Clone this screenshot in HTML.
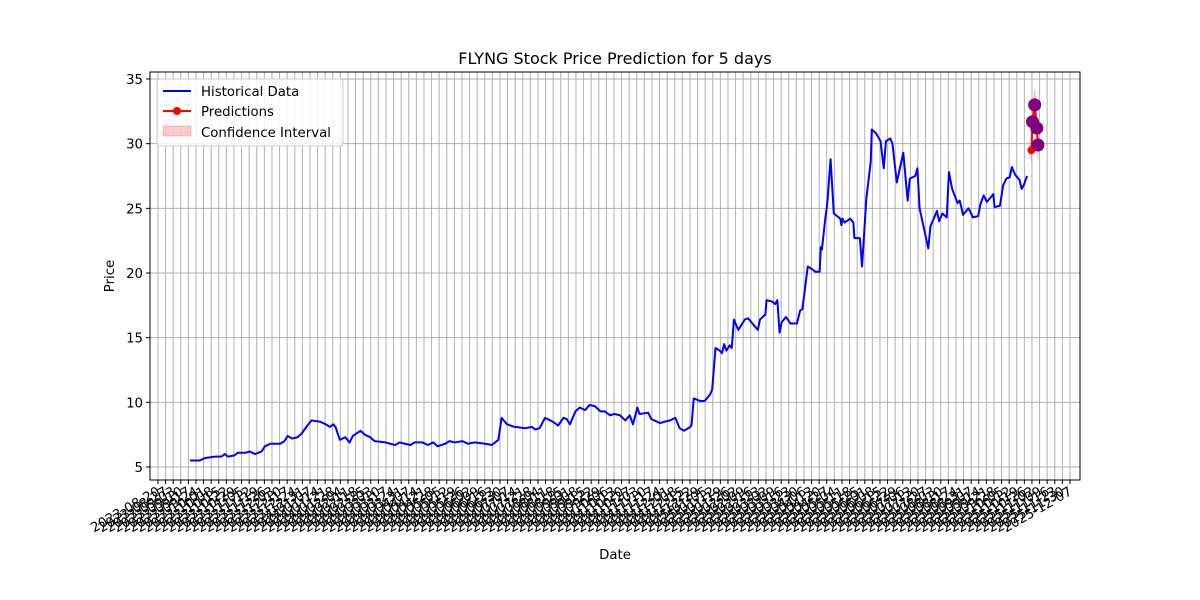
<!DOCTYPE html>
<html><head><meta charset="utf-8"><style>
body{margin:0;background:#fff;}
svg{display:block;font-family:"DejaVu Sans","Liberation Sans",sans-serif;}
</style></head><body>
<svg id="chart" width="1200" height="600" viewBox="0 0 1200 600" xmlns="http://www.w3.org/2000/svg">
<rect width="1200" height="600" fill="#fff"/>
<text x="615" y="64" font-size="16" text-anchor="middle" fill="#000">FLYNG Stock Price Prediction for 5 days</text>
<g id="grid"></g><g id="xticks"></g><g id="yticks"></g><g id="series"></g>
<rect x="150" y="72" width="930" height="408" fill="none" stroke="#000" stroke-width="1"/>
<text x="615" y="559" font-size="13.3" text-anchor="middle">Date</text>
<text transform="translate(114,276) rotate(-90)" font-size="13.3" text-anchor="middle">Price</text>
<g>
<rect x="157" y="79" width="186" height="67" rx="3" fill="#fff" fill-opacity="0.85" stroke="#ccc"/>
<g><line x1="163" y1="91" x2="191" y2="91" stroke="#0000ff" stroke-width="2"/><text x="201" y="96" font-size="13.3">Historical Data</text></g>
<g><line x1="163" y1="111" x2="191" y2="111" stroke="#ff0000" stroke-width="2"/><circle cx="177" cy="111" r="4" fill="#ff0000"/><text x="201" y="116" font-size="13.3">Predictions</text></g>
<g><rect x="163" y="126" width="28" height="10" fill="#ff0000" fill-opacity="0.2" stroke="#ff0000" stroke-opacity="0.2"/><text x="201" y="137" font-size="13.3">Confidence Interval</text></g>
</g>
</svg>
<script>
const histDays=[0,9,14,23,29,32,35,41,44,51,55,60,66,69,74,83,87,90,94,99,103,108,112,120,125,129,132,134,138,143,147,150,157,161,166,170,180,189,193,198,203,207,214,219,224,228,235,239,244,251,256,262,272,278,284,287,292,299,309,315,318,322,327,332,336,339,344,347,350,355,359,364,368,373,378,382,387,391,396,401,405,408,412,414,422,425,433,437,442,447,451,455,461,462,464,470,474,479,481,484,488,490,492,494,497,499,501,505,511,514,520,523,525,530,531,536,539,541,543,545,549,553,559,562,564,566,569,573,576,580,581,582,585,587,590,593,599,600,601,603,608,611,612,617,619,623,627,628,632,636,639,641,645,647,651,657,661,663,668,670,672,680,682,688,690,693,697,699,702,707,709,712,717,719,721,726,728,731,734,737,740,741,746,749,752,755,757,760,764,766,768,771];
const histPrices=[5.5,5.5,5.7,5.8,5.8,6.0,5.8,5.9,6.1,6.1,6.2,6.0,6.2,6.6,6.8,6.8,7.0,7.4,7.2,7.3,7.6,8.2,8.6,8.5,8.3,8.1,8.3,8.1,7.1,7.3,6.9,7.4,7.8,7.5,7.3,7.0,6.9,6.7,6.9,6.8,6.7,6.9,6.9,6.7,6.9,6.6,6.8,7.0,6.9,7.0,6.8,6.9,6.8,6.7,7.1,8.8,8.3,8.1,8.0,8.1,7.9,8.0,8.8,8.6,8.4,8.2,8.8,8.7,8.3,9.3,9.6,9.4,9.8,9.7,9.3,9.3,9.0,9.1,9.0,8.6,9.0,8.3,9.6,9.1,9.2,8.7,8.4,8.5,8.6,8.8,8.0,7.8,8.1,8.3,10.3,10.1,10.1,10.6,11.0,14.2,14.0,13.8,14.5,14.0,14.4,14.2,16.4,15.6,16.4,16.5,15.9,15.6,16.4,16.8,17.9,17.8,17.6,17.9,15.4,16.2,16.6,16.1,16.1,17.1,17.2,18.5,20.5,20.3,20.1,20.1,22.0,21.8,24.1,25.4,28.8,24.6,24.2,23.7,24.2,23.9,24.2,23.9,22.7,22.7,20.5,25.8,28.6,31.1,30.8,30.2,28.1,30.2,30.4,30.0,27.0,29.3,25.6,27.3,27.5,28.1,25.0,21.9,23.6,24.8,24.0,24.6,24.3,27.8,26.5,25.4,25.6,24.5,25.0,24.7,24.3,24.4,25.3,26.0,25.5,25.8,26.1,25.1,25.2,26.8,27.3,27.4,28.2,27.6,27.2,26.5,26.8,27.5];
const predDays=[775,776,778,780,781];
const predPrices=[29.5,31.7,33.0,31.2,29.9];
const predLower=[28.6,30.6,31.8,30.1,28.8];
const predUpper=[30.4,32.8,34.2,32.3,31.0];
const yTicks=[5,10,15,20,25,30,35];
const xTickStart="2023-08-20";
const xTickCount=121;

const NS="http://www.w3.org/2000/svg";
const X=d=>190+d*1.0857;
const Y=v=>467-(v-5)*12.933;
function mk(tag,attrs,parent){const e=document.createElementNS(NS,tag);for(const k in attrs)e.setAttribute(k,attrs[k]);parent.appendChild(e);return e;}
const grid=document.getElementById('grid'),xt=document.getElementById('xticks'),yt=document.getElementById('yticks'),ser=document.getElementById('series');
const start=new Date(xTickStart+"T00:00:00Z");
for(let k=0;k<xTickCount;k++){
  const d=-29.5+7*k,x=X(d);
  const gl=mk('line',{x1:x,y1:72,x2:x,y2:480,stroke:'#b0b0b0','stroke-width':1},grid);
  
  
  mk('line',{x1:x,y1:480,x2:x,y2:484,stroke:'#000'},xt);
  const dt=new Date(start.getTime()+k*7*86400000);
  const t=mk('text',{x:x+3,y:494,'font-size':13.3,'text-anchor':'end',transform:`rotate(-30 ${x+3} 494)`},xt);
  
  
  t.textContent=dt.toISOString().slice(0,10);
}
yTicks.forEach(v=>{
  const y=Y(v);
  const gl=mk('line',{x1:150,y1:y,x2:1080,y2:y,stroke:'#b0b0b0','stroke-width':1},grid);
  
  
  mk('line',{x1:146,y1:y,x2:150,y2:y,stroke:'#000'},yt);
  const t=mk('text',{x:143,y:y+5,'font-size':13.3,'text-anchor':'end'},yt);
  
  
  t.textContent=v;
});
let band="M"+predDays.map((d,i)=>X(d)+","+Y(predUpper[i])).join("L")+"L"+predDays.map((d,i)=>X(d)+","+Y(predLower[i])).reverse().join("L")+"Z";
const b=mk('path',{d:band,fill:'#ff0000','fill-opacity':0.2,stroke:'#ff0000','stroke-opacity':0.2},ser);


const hl=mk('polyline',{points:histDays.map((d,i)=>X(d)+","+Y(histPrices[i])).join(" "),fill:'none',stroke:'#0000ff','stroke-width':2,'stroke-linejoin':'round'},ser);


const pl=mk('polyline',{points:predDays.map((d,i)=>X(d)+","+Y(predPrices[i])).join(" "),fill:'none',stroke:'#ff0000','stroke-width':2},ser);


predDays.forEach((d,i)=>{
  const c=mk('circle',{cx:X(d),cy:Y(predPrices[i]),r:4,fill:'#ff0000'},ser);
  
  
});
predDays.forEach((d,i)=>{
  if(i===0)return;
  const c=mk('circle',{cx:X(d),cy:Y(predPrices[i]),r:6.5,fill:'#800080'},ser);
  
  
});
</script>
</body></html>
